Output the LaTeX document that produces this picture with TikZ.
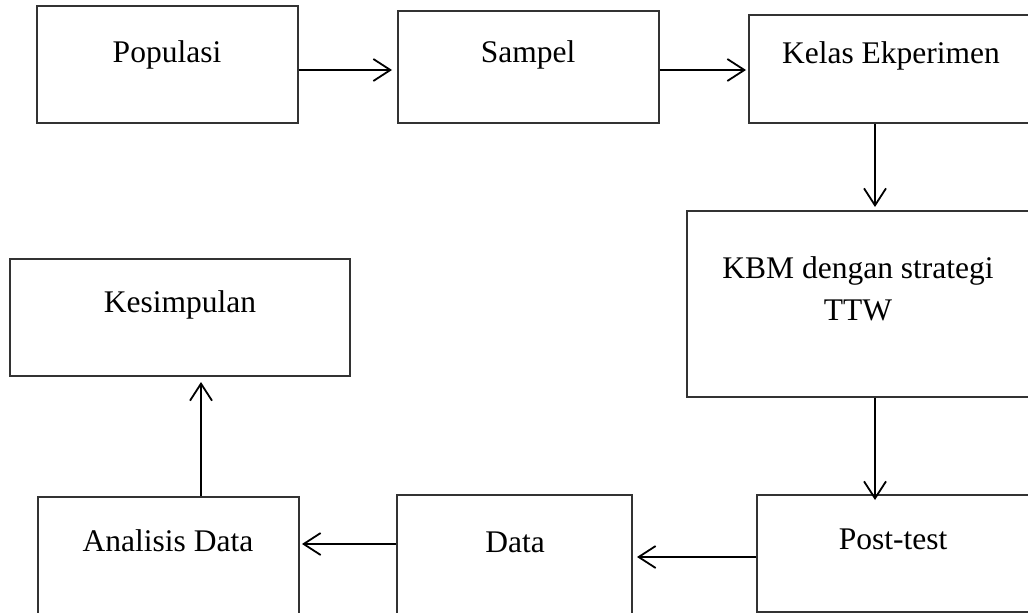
\documentclass[tikz,border=0pt]{standalone}
\usepackage{fontspec}
\setmainfont{Liberation Serif}
\usetikzlibrary{arrows.meta}
\begin{document}
\begin{tikzpicture}[x=1pt,y=1pt,
  box/.style={draw=black!80, line width=1.3pt, rectangle, inner sep=0pt, fill=none},
  txt/.style={anchor=base, inner sep=0pt, font=\fontsize{31.5}{42}\selectfont, align=center},
  arr/.style={draw=black, line width=1.8pt, -{Straight Barb[length=17pt,width=22pt,line width=1.8pt]}}]
\clip (0,0) rectangle (1028,-613);
\fill[white] (0,0) rectangle (1028,-613);
% boxes
\node[box, minimum width=261pt, minimum height=117pt] (pop) at (167.5,-64.5) {};
\node[box, minimum width=261pt, minimum height=112pt] (sam) at (528.5,-67) {};
\node[box, minimum width=291pt, minimum height=108pt] (kel) at (894.5,-69) {};
\node[box, minimum width=353pt, minimum height=186pt] (kbm) at (863.5,-304) {};
\node[box, minimum width=340pt, minimum height=117pt] (kes) at (180,-317.5) {};
\node[box, minimum width=261pt, minimum height=128pt] (ana) at (168.5,-561) {};
\node[box, minimum width=235pt, minimum height=130pt] (dat) at (514.5,-560) {};
\node[box, minimum width=283pt, minimum height=117pt] (pos) at (898.5,-553.5) {};
% texts
\node[txt] (tpop) at (167,-62) {Populasi};
\node[txt] (tsam) at (528,-62) {Sampel};
\node[txt] (tkel) at (891,-63) {Kelas Ekperimen};
\node[txt] (tkbm) at (858,-320) {KBM dengan strategi\\TTW};
\node[txt] (tkes) at (180,-312) {Kesimpulan};
\node[txt] (tana) at (168,-551) {Analisis Data};
\node[txt] (tdat) at (515,-552) {Data};
\node[txt] (tpos) at (893,-549) {Post-test};
% connectors
\coordinate (a1) at (392,-70);
\coordinate (a2) at (746,-70);
\coordinate (a3) at (875,-207);
\coordinate (a4) at (875,-500);
\coordinate (a5) at (637,-557);
\coordinate (a6) at (302,-544);
\coordinate (a7) at (201,-382);
\draw[arr] (pop.east |- a1) -- (a1);
\draw[arr] (sam.east |- a2) -- (a2);
\draw[arr] (a3 |- kel.south) -- (a3);
\draw[arr] (a4 |- kbm.south) -- (a4);
\draw[arr] (pos.west |- a5) -- (a5);
\draw[arr] (dat.west |- a6) -- (a6);
\draw[arr] (a7 |- ana.north) -- (a7);
\end{tikzpicture}
\end{document}
